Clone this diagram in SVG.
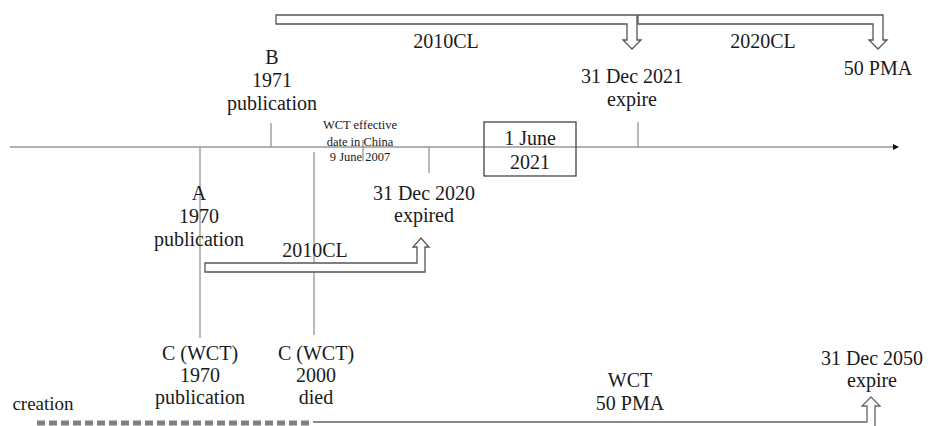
<svg xmlns="http://www.w3.org/2000/svg" width="931" height="426" viewBox="0 0 931 426">
<defs>
<style>
text{font-family:"Liberation Serif","Times New Roman",serif;font-size:20px;fill:#1a1a1a;text-anchor:middle}
.small{font-size:12.5px}
.tick{stroke:#8a8a8a;stroke-width:1.2;fill:none}
.barrow{fill:#fff;stroke:#555;stroke-width:1.3;stroke-linejoin:miter}
</style>
<marker id="ah" viewBox="0 0 10 10" refX="0" refY="5" markerWidth="7" markerHeight="6" markerUnits="userSpaceOnUse" orient="auto"><path d="M0,0 L10,5 L0,10 Z" fill="#111"/></marker>
</defs>
<rect width="931" height="426" fill="#fff"/>
<g id="connectors">
<line x1="10" y1="147" x2="893" y2="147" stroke="#999" stroke-width="1.3" marker-end="url(#ah)"/>
<line class="tick" x1="271" y1="123" x2="271" y2="147"/>
<line class="tick" x1="638" y1="122" x2="638" y2="147"/>
<line class="tick" x1="363" y1="140" x2="363" y2="161"/>
<line class="tick" x1="429" y1="147" x2="429" y2="173"/>
<line class="tick" x1="200" y1="147" x2="200" y2="338"/>
<line class="tick" x1="314" y1="152" x2="314" y2="335"/>
<path class="barrow" d="M276,15 H637 V40 H641 L632,49 L623,40 H627 V24 H276 Z"/>
<path class="barrow" d="M638,15 H883 V40 H887 L878,49 L869,40 H873 V24 H638 Z"/>
<path class="barrow" d="M205,263 H417 V247 H413 L421,238 L429,247 H425 V272 H205 Z"/>
<line x1="37" y1="423" x2="313" y2="423" stroke="#808080" stroke-width="5" stroke-dasharray="8,4"/>
<path d="M313,422 H867 V406 H862 L871,397 L880,406 H875 V432" fill="#fff" stroke="#666" stroke-width="1.3"/>
</g>
<g id="n2010CL-top"><text x="446" y="48">2010CL</text></g>
<g id="n2020CL"><text x="763" y="48">2020CL</text></g>
<g id="n50PMA-top"><text x="878" y="75">50 PMA</text></g>
<g id="nB"><text x="272" y="64">B</text><text x="272" y="87">1971</text><text x="272" y="110">publication</text></g>
<g id="n2021expire"><text x="632" y="83">31 Dec 2021</text><text x="632" y="106">expire</text></g>
<g id="nWCTeffective"><text class="small" x="360" y="129">WCT effective</text><text class="small" x="360" y="146">date in China</text><text class="small" x="360" y="161">9 June 2007</text></g>
<g id="nJune2021"><rect x="484" y="122" width="92" height="54" fill="none" stroke="#444" stroke-width="1.3"/><text x="530" y="145">1 June</text><text x="530" y="169">2021</text></g>
<g id="nA"><text x="199" y="200">A</text><text x="199" y="223">1970</text><text x="199" y="246">publication</text></g>
<g id="n2020expired"><text x="424" y="200">31 Dec 2020</text><text x="424" y="222">expired</text></g>
<g id="n2010CL-low"><text x="315" y="257">2010CL</text></g>
<g id="nC1970"><text x="200" y="360">C (WCT)</text><text x="200" y="382">1970</text><text x="200" y="404">publication</text></g>
<g id="nC2000"><text x="316" y="360">C (WCT)</text><text x="316" y="382">2000</text><text x="316" y="404">died</text></g>
<g id="ncreation"><text x="43" y="410" style="font-size:19px">creation</text></g>
<g id="nWCT50"><text x="630" y="387">WCT</text><text x="630" y="410">50 PMA</text></g>
<g id="n2050expire"><text x="872" y="365">31 Dec 2050</text><text x="872" y="387">expire</text></g>
</svg>
